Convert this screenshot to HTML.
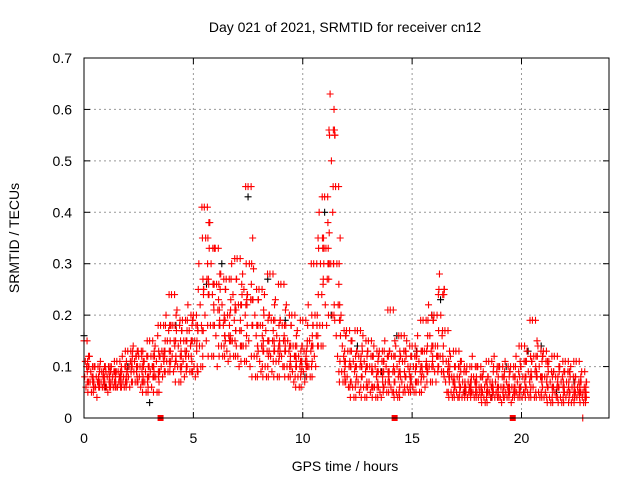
<!DOCTYPE html>
<html><head><meta charset="utf-8"><style>
body{margin:0;background:#fff;}
svg{display:block;font-family:"Liberation Sans",sans-serif;}
</style></head><body>
<svg id="chart" width="640" height="480" viewBox="0 0 640 480">
<rect width="640" height="480" fill="#fff"/>
<text x="345" y="32" font-size="14" text-anchor="middle">Day 021 of 2021, SRMTID for receiver cn12</text>
<text x="19" y="238" font-size="14" text-anchor="middle" transform="rotate(-90 19 238)">SRMTID / TECUs</text>
<text x="345" y="471" font-size="14" text-anchor="middle">GPS time / hours</text>
<g id="grid"></g><g id="ticks"></g><g id="black"></g><g id="red"></g><g id="gaps"></g>
<rect x="84" y="58" width="525" height="360" fill="none" stroke="#000" stroke-width="1"/>
</svg>
<script>
const times=[0,0.25,0.5,0.75,1,1.25,1.5,1.75,2,2.25,2.5,2.75,3,3.25,3.5,3.75,4,4.25,4.5,4.75,5,5.25,5.5,5.75,6,6.25,6.5,6.75,7,7.25,7.5,7.75,8,8.25,8.5,8.75,9,9.25,9.5,9.75,10,10.25,10.5,10.75,11,11.25,11.5,11.75,12,12.25,12.5,12.75,13,13.25,13.5,13.75,14,14.25,14.5,14.75,15,15.25,15.5,15.75,16,16.25,16.5,16.75,17,17.25,17.5,17.75,18,18.25,18.5,18.75,19,19.25,19.5,19.75,20,20.25,20.5,20.75,21,21.25,21.5,21.75,22,22.25,22.5,22.75];
const s1=[.15,.12,.10,.11,.09,.10,.11,.12,.13,.14,.12,.11,.15,.14,.18,.20,.24,.21,.19,.22,.20,.30,.41,.38,.33,.28,.27,.30,.31,.28,.45,.29,.25,.24,.28,.23,.26,.22,.20,.17,.19,.22,.30,.40,.43,.63,.45,.20,.17,.15,.17,.16,.15,.14,.13,.15,.21,.14,.16,.15,.14,.16,.19,.22,.20,.28,.17,.12,.13,.11,.10,.12,.10,.09,.11,.12,.10,.11,.10,.12,.14,.13,.19,.14,.13,.11,.12,.10,.11,.10,.11,.09];
const s2=[.08,.07,.06,.07,.06,.07,.06,.07,.08,.09,.08,.07,.09,.08,.10,.11,.12,.10,.11,.12,.10,.14,.20,.18,.16,.14,.13,.15,.12,.14,.15,.12,.11,.10,.12,.11,.12,.10,.09,.08,.09,.10,.12,.18,.22,.30,.16,.09,.08,.06,.07,.06,.07,.06,.05,.07,.06,.05,.07,.06,.06,.07,.08,.10,.09,.12,.07,.05,.05,.04,.04,.05,.04,.04,.05,.04,.04,.05,.03,.05,.04,.05,.06,.05,.04,.04,.05,.04,.04,.03,.04,.04];
const s3=[.11,.09,.08,.09,.08,.08,.09,.08,.10,.11,.10,.09,.12,.11,.13,.15,.18,.14,.15,.17,.15,.22,.35,.30,.26,.22,.20,.24,.22,.25,.30,.20,.18,.17,.19,.16,.18,.15,.14,.12,.13,.15,.20,.30,.33,.50,.30,.14,.13,.11,.12,.11,.10,.10,.09,.10,.12,.10,.11,.10,.10,.11,.13,.16,.14,.20,.11,.08,.08,.07,.07,.08,.06,.06,.07,.07,.06,.07,.06,.07,.08,.09,.12,.10,.08,.07,.08,.07,.07,.06,.06,.05];
const s4=[.06,.05,.04,.06,.05,.06,.07,.06,.06,.07,.06,.05,.06,.05,.08,.09,.09,.07,.08,.09,.08,.10,.15,.12,.10,.12,.11,.12,.10,.11,.10,.08,.09,.08,.09,.08,.10,.08,.07,.06,.07,.08,.10,.14,.18,.20,.12,.07,.06,.04,.05,.04,.05,.04,.04,.05,.05,.04,.05,.05,.05,.05,.06,.07,.07,.09,.05,.04,.04,.05,.05,.04,.05,.03,.04,.05,.03,.04,.04,.04,.05,.04,.04,.04,.05,.03,.04,.03,.05,.04,.05,.03];
const s5=[.10,.08,.07,.08,.10,.09,.08,.10,.11,.12,.13,.12,.10,.16,.12,.17,.15,.18,.13,.14,.18,.18,.27,.24,.21,.18,.16,.19,.17,.20,.23,.16,.14,.13,.15,.13,.15,.13,.12,.10,.11,.13,.16,.24,.27,.40,.22,.12,.10,.09,.10,.09,.12,.08,.11,.12,.09,.08,.13,.09,.12,.09,.10,.13,.12,.16,.09,.07,.10,.09,.06,.07,.08,.07,.06,.09,.08,.06,.08,.09,.11,.07,.09,.08,.11,.09,.06,.08,.09,.08,.07,.06];
const s6=[.09,.07,.07,.07,.07,.07,.08,.07,.09,.10,.09,.08,.10,.09,.11,.13,.14,.12,.12,.15,.13,.17,.30,.26,.23,.19,.18,.21,.19,.22,.26,.18,.16,.15,.17,.14,.16,.14,.12,.11,.12,.14,.18,.35,.38,.56,.26,.11,.11,.10,.11,.10,.09,.09,.08,.09,.10,.09,.09,.08,.09,.10,.11,.14,.12,.24,.10,.07,.07,.06,.06,.07,.06,.05,.06,.06,.05,.06,.05,.06,.07,.08,.10,.08,.07,.06,.07,.06,.06,.05,.05,.05];
const s7=[.07,.06,.06,.08,.06,.07,.06,.08,.07,.08,.07,.06,.08,.07,.09,.10,.11,.09,.10,.11,.09,.12,.24,.22,.18,.16,.15,.17,.14,.16,.18,.14,.13,.12,.13,.12,.13,.11,.10,.09,.10,.11,.14,.26,.30,.60,.19,.08,.07,.07,.08,.07,.06,.07,.06,.08,.07,.06,.08,.07,.07,.08,.09,.11,.10,.14,.08,.06,.06,.06,.05,.06,.05,.05,.05,.05,.04,.05,.05,.05,.06,.06,.08,.07,.06,.05,.06,.05,.05,.04,.05,.04];
const s8=[.12,.10,.09,.10,.09,.09,.10,.09,.12,.13,.11,.10,.13,.12,.15,.18,.20,.17,.17,.19,.17,.25,.38,.33,.28,.25,.23,.27,.26,.24,.35,.23,.21,.20,.22,.19,.21,.18,.16,.14,.15,.18,.24,.33,.36,.55,.35,.16,.15,.13,.14,.13,.12,.12,.11,.13,.15,.12,.13,.12,.12,.13,.16,.19,.17,.25,.13,.10,.11,.09,.08,.10,.08,.08,.09,.10,.08,.09,.08,.10,.11,.11,.15,.12,.10,.09,.10,.09,.09,.08,.08,.07];
const blackTimes=[0,1,2,3,4.2,5.6,6.3,7.5,8.4,9.2,10.1,11,11.3,12.5,13.6,14.3,15.2,15.9,16.3,17.4,18.6,19.3,20.3,20.9,21.6,22.4];
const blackVals=[.16,.06,.10,.03,.18,.26,.30,.43,.27,.19,.08,.40,.20,.14,.09,.16,.13,.20,.23,.05,.04,.10,.13,.14,.05,.07];
const gapTimes=[3.5,14.2,19.6];
const xTicks=[0,5,10,15,20];
const yTicks=[0,0.1,0.2,0.3,0.4,0.5,0.6,0.7];
const X0=84,X1=609,Y0=418,Y1=58,XMAX=24,YMAX=0.7;
const xs=t=>X0+(X1-X0)*t/XMAX, ys=v=>Y0-(Y0-Y1)*v/YMAX;
const NS='http://www.w3.org/2000/svg';
function mk(tag,attrs,parent){const e=document.createElementNS(NS,tag);for(const k in attrs)e.setAttribute(k,attrs[k]);document.getElementById(parent).appendChild(e);return e;}
xTicks.forEach(t=>{const x=xs(t);
 if(t>0){const g=mk('line',{x1:x,x2:x,y1:Y1,y2:Y0,stroke:'#999','stroke-dasharray':'2,3'},'grid');
 
 }
 mk('line',{x1:x,x2:x,y1:Y0,y2:Y0-6,stroke:'#000'},'ticks');mk('line',{x1:x,x2:x,y1:Y1,y2:Y1+6,stroke:'#000'},'ticks');
 const l=mk('text',{x:x,y:443,'font-size':14,'text-anchor':'middle'},'ticks');l.textContent=t;
 
 });
yTicks.forEach(v=>{const y=ys(v);
 if(v>0&&v<0.7){const g=mk('line',{x1:X0,x2:X1,y1:y,y2:y,stroke:'#999','stroke-dasharray':'2,3'},'grid');
 
 }
 mk('line',{x1:X0,x2:X0+6,y1:y,y2:y,stroke:'#000'},'ticks');mk('line',{x1:X1,x2:X1-6,y1:y,y2:y,stroke:'#000'},'ticks');
 const l=mk('text',{x:72,y:y+5,'font-size':14,'text-anchor':'end'},'ticks');l.textContent=v===0?'0':v.toFixed(1);
 
 });
function plus(t,v,color,parent,name){const x=xs(t),y=ys(v);
 const p=mk('path',{d:`M${x-3.5} ${y}h7M${x} ${y-3.5}v7`,stroke:color,'stroke-width':1.1,fill:'none'},parent);
 
 }
blackTimes.forEach((t,i)=>plus(t,blackVals[i],'#000','black','black-point'));
[s1,s2,s3,s4,s5,s6,s7,s8].forEach((s,k)=>times.forEach((t,i)=>{
 plus(t+k*0.03,s[i],'#f00','red','red-point');
 if(t+0.14<22.9) plus(t+0.14+k*0.012,s[(k+i)%2===0?i:Math.min(i+1,s.length-1)],'#f00','red','red-point');
}));
plus(22.8,0,'#f00','red','red-point');
gapTimes.forEach(t=>{const r=mk('rect',{x:xs(t)-3,y:Y0-3,width:6,height:6,fill:'#f00'},'gaps');
 
 });
</script>
</body></html>
